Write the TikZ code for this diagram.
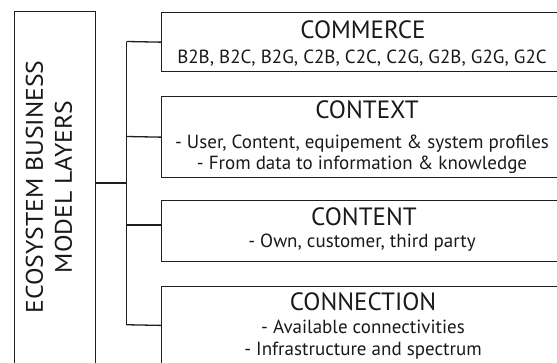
\documentclass[tikz,border=0pt]{standalone}
\usepackage{fontspec}
\setmainfont{PT Sans}
\newfontfamily\vertfont[FakeStretch=1.07]{PT Sans}
\begin{document}
\begin{tikzpicture}[x=1pt,y=-1pt,
  ln/.style={line width=1.3pt, draw=black!88},
  layerbox/.style={draw=black!88, line width=1.3pt, rectangle, anchor=north west, minimum width=440pt, inner sep=0pt},
  titletxt/.style={font=\fontsize{25}{28}\selectfont, anchor=base, inner sep=0pt, text=black!90},
  subtxt/.style={font=\fontsize{19}{22}\selectfont, anchor=base, inner sep=0pt, text=black!90},
  verttxt/.style={font=\vertfont\fontsize{24}{29}\selectfont, rotate=90, align=center, inner sep=0pt, text=black!90}]
\useasboundingbox (0,0) rectangle (557,362);
\clip (0,0) rectangle (557,362);
% left box
\node[layerbox, minimum width=81pt, minimum height=370pt] (left) at (14,11) {};
\node[verttxt] (vt) at (49,187) {ECOSYSTEM BUSINESS\\MODEL LAYERS};
% layer boxes
\node[layerbox, minimum height=59pt] (commerce) at (161,12) {};
\node[layerbox, minimum height=81pt] (context) at (161,96) {};
\node[layerbox, minimum height=61pt] (content) at (161,200) {};
\node[layerbox, minimum height=77.5pt] (connection) at (161,286) {};
% texts
\node[titletxt] (t1) at (363,38) {COMMERCE};
\node[subtxt] (s1) at (362,63) {B2B, B2C, B2G, C2B, C2C, C2G, G2B, G2G, G2C};
\node[titletxt] (t2) at (367,118) {CONTEXT};
\node[subtxt] (s2a) at (362,148) {- User, Content, equipement \& system profiles};
\node[subtxt] (s2b) at (362,169) {- From data to information \& knowledge};
\node[titletxt] (t3) at (364,225) {CONTENT};
\node[subtxt] (s3) at (362,247) {- Own, customer, third party};
\node[titletxt] (t4) at (363,310) {CONNECTION};
\node[subtxt] (s4a) at (363,333) {- Available connectivities};
\node[subtxt] (s4b) at (363,355) {- Infrastructure and spectrum};
% connectors
\coordinate (j0) at (126.5,183);
\coordinate (j1) at (126.5,41.5);
\coordinate (j2) at (126.5,136.5);
\coordinate (j3) at (126.5,225);
\coordinate (j4) at (126.5,324.75);
\draw[ln] (left.east |- j0) -- (j0);
\draw[ln] (j1) -- (j4);
\draw[ln] (j1) -- (commerce.west);
\draw[ln] (j2) -- (context.west);
\draw[ln] (j3) -- (content.west |- j3);
\draw[ln] (j4) -- (connection.west);
\end{tikzpicture}
\end{document}
